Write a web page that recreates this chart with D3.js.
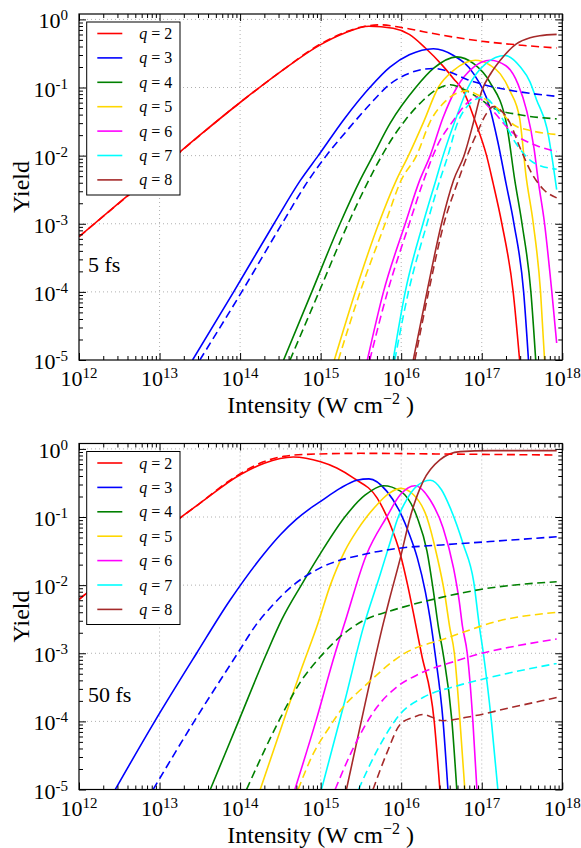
<!DOCTYPE html>
<html><head><meta charset="utf-8">
<script src="https://cdn.jsdelivr.net/npm/d3@7"></script>
<style>
body{margin:0;background:#fff}
svg{display:block}
</style>
</head><body>
<svg id="chart" width="581" height="848"></svg>
<script>
// ---- data: [log10 intensity (W cm^-2), log10 yield] ----
const charges = [2,3,4,5,6,7,8];
const colors = ["#ff0000","#0000ff","#008000","#ffd700","#ff00ff","#00ffff","#a52a2a"];
const xTickExps = [12,13,14,15,16,17,18];
const yTickExps = [0,-1,-2,-3,-4,-5];
const panelLabels = ["5 fs","50 fs"];

// 5 fs, solid
const s5_q2 = [[12,-3.19],[12.5,-2.69],[13,-2.2],[13.5,-1.7],[14,-1.22],[14.5,-0.77],[15,-0.37],[15.3,-0.2],[15.6,-0.1],[15.9,-0.13],[16.1,-0.22],[16.3,-0.42],[16.5,-0.66],[16.65,-0.87],[16.77,-1.05],[16.92,-1.5],[17.06,-2.0],[17.14,-2.4],[17.25,-3],[17.39,-4],[17.47,-5]];
const s5_q3 = [[13.41,-5],[13.92,-4],[14.42,-3],[14.75,-2.36],[14.97,-2],[15.3,-1.45],[15.61,-1],[15.86,-0.7],[16.1,-0.52],[16.4,-0.43],[16.65,-0.53],[16.9,-0.8],[17.1,-1.3],[17.2,-1.8],[17.3,-2.4],[17.4,-3],[17.52,-4],[17.58,-5]];
const s5_q4 = [[14.54,-5],[14.89,-4],[15.24,-3],[15.49,-2.36],[15.65,-2],[15.86,-1.53],[16.18,-1],[16.4,-0.72],[16.69,-0.55],[16.9,-0.65],[17.1,-0.92],[17.31,-1.55],[17.41,-2.36],[17.5,-3],[17.61,-4],[17.67,-5]];
const s5_q5 = [[15.17,-5],[15.43,-4],[15.72,-3],[15.94,-2.36],[16.09,-2],[16.28,-1.5],[16.46,-1],[16.65,-0.75],[16.92,-0.6],[17.1,-0.67],[17.23,-0.8],[17.35,-1.05],[17.47,-1.45],[17.55,-2.3],[17.64,-3],[17.73,-4],[17.78,-5]];
const s5_q6 = [[15.58,-5],[15.78,-4],[16.05,-3],[16.23,-2.36],[16.36,-2],[16.52,-1.44],[16.69,-1],[16.9,-0.7],[17.1,-0.6],[17.3,-0.68],[17.45,-0.95],[17.56,-1.35],[17.65,-1.9],[17.7,-2.36],[17.78,-3],[17.87,-4],[17.93,-4.75]];
const s5_q7 = [[15.9,-5],[16.05,-4],[16.27,-3],[16.43,-2.36],[16.52,-2],[16.68,-1.45],[16.83,-1],[17.05,-0.65],[17.29,-0.53],[17.48,-0.7],[17.6,-0.92],[17.68,-1.18],[17.81,-1.6],[17.93,-2.5]];
const s5_q8 = [[16.15,-5],[16.32,-4],[16.5,-3],[16.65,-2.36],[16.78,-2],[16.9,-1.5],[17.0,-1.05],[17.12,-0.78],[17.23,-0.6],[17.43,-0.36],[17.6,-0.27],[17.72,-0.24],[17.93,-0.22]];
// 5 fs, dashed
const d5_q2 = [[12,-3.19],[13,-2.2],[14,-1.22],[14.5,-0.77],[15,-0.36],[15.3,-0.19],[15.55,-0.1],[15.75,-0.08],[16.0,-0.12],[16.5,-0.23],[17,-0.32],[17.5,-0.38],[17.93,-0.42]];
const d5_q3 = [[13.5,-5],[14.02,-4],[14.52,-3],[14.85,-2.36],[15.07,-2],[15.35,-1.6],[15.61,-1.25],[15.86,-0.95],[16.1,-0.79],[16.4,-0.72],[16.6,-0.77],[16.81,-0.88],[17.1,-0.98],[17.4,-1.05],[17.93,-1.13]];
const d5_q4 = [[14.62,-5],[14.98,-4],[15.34,-3],[15.76,-2],[15.86,-1.8],[16.05,-1.48],[16.27,-1.19],[16.45,-1.02],[16.61,-0.96],[16.8,-1.04],[16.98,-1.17],[17.14,-1.3],[17.47,-1.4],[17.93,-1.46]];
const d5_q5 = [[15.22,-5],[15.49,-4],[15.8,-3],[16.0,-2.36],[16.19,-2],[16.36,-1.5],[16.55,-1.2],[16.81,-1.05],[17.0,-1.14],[17.19,-1.3],[17.4,-1.55],[17.6,-1.63],[17.93,-1.69]];
const d5_q6 = [[15.61,-5],[15.83,-4],[16.1,-3],[16.28,-2.36],[16.45,-1.85],[16.65,-1.48],[16.8,-1.25],[16.93,-1.14],[17.1,-1.3],[17.39,-1.67],[17.72,-1.87],[17.93,-1.94]];
const d5_q7 = [[15.92,-5],[16.09,-4],[16.32,-3],[16.48,-2.36],[16.58,-2],[16.69,-1.55],[16.85,-1.24],[17.02,-1.14],[17.2,-1.35],[17.43,-1.83],[17.64,-2.1],[17.93,-2.2]];
const d5_q8 = [[16.17,-5],[16.34,-4],[16.53,-3],[16.71,-2.36],[16.82,-2],[16.94,-1.67],[17.06,-1.38],[17.14,-1.28],[17.25,-1.35],[17.35,-1.52],[17.47,-1.87],[17.64,-2.3],[17.77,-2.5],[17.93,-2.62]];

// 50 fs, solid
const s50_q2 = [[12,-2.21],[12.5,-1.72],[13,-1.24],[13.5,-0.8],[14,-0.38],[14.3,-0.21],[14.66,-0.12],[15,-0.19],[15.2,-0.28],[15.41,-0.43],[15.7,-0.72],[15.86,-1.1],[15.99,-1.55],[16.08,-2.0],[16.15,-2.4],[16.25,-3],[16.41,-4],[16.48,-5]];
const s50_q3 = [[12.45,-5],[12.94,-4],[13.46,-3],[13.87,-2.23],[14.29,-1.55],[14.5,-1.26],[14.7,-1.03],[14.85,-0.89],[15.0,-0.77],[15.24,-0.58],[15.45,-0.46],[15.6,-0.44],[15.82,-0.62],[15.99,-0.94],[16.1,-1.25],[16.2,-1.6],[16.3,-2.1],[16.36,-2.5],[16.42,-3],[16.52,-4],[16.58,-5]];
const s50_q4 = [[13.63,-5],[13.98,-4],[14.33,-3],[14.52,-2.5],[14.76,-2],[15.0,-1.53],[15.3,-1],[15.55,-0.68],[15.78,-0.54],[15.99,-0.62],[16.2,-1.01],[16.32,-1.5],[16.4,-2.09],[16.46,-2.6],[16.52,-3],[16.63,-4],[16.69,-5]];
const s50_q5 = [[14.25,-5],[14.5,-4.13],[14.74,-3.3],[14.97,-2.55],[15.12,-2.0],[15.3,-1.5],[15.45,-1.2],[15.57,-1],[15.7,-0.82],[15.82,-0.68],[15.99,-0.58],[16.15,-0.67],[16.32,-1.01],[16.44,-1.55],[16.54,-2.13],[16.6,-2.6],[16.66,-3],[16.73,-4],[16.79,-5]];
const s50_q6 = [[14.68,-5],[14.94,-4],[15.18,-3],[15.3,-2.55],[15.57,-1.55],[15.82,-1.0],[15.99,-0.67],[16.17,-0.54],[16.36,-0.75],[16.52,-1.16],[16.65,-1.75],[16.72,-2.23],[16.76,-2.6],[16.82,-3],[16.89,-4],[16.94,-5]];
const s50_q7 = [[15.01,-5],[15.3,-3.7],[15.53,-2.62],[15.74,-1.84],[15.86,-1.38],[15.96,-1.01],[16.07,-0.74],[16.2,-0.54],[16.36,-0.46],[16.5,-0.6],[16.61,-0.87],[16.77,-1.4],[16.9,-1.95],[16.97,-2.6],[17.02,-3],[17.12,-4],[17.2,-5]];
const s50_q8 = [[15.32,-5],[15.55,-3.75],[15.78,-2.55],[15.86,-2.18],[15.99,-1.6],[16.11,-1.01],[16.27,-0.48],[16.48,-0.16],[16.73,-0.04],[17.1,-0.025],[17.93,-0.025]];
// 50 fs, dashed
const d50_q2 = [[12,-2.21],[13,-1.24],[13.5,-0.8],[13.9,-0.44],[14.29,-0.19],[14.54,-0.11],[14.83,-0.08],[15.5,-0.065],[16.5,-0.075],[17.93,-0.09]];
const d50_q3 = [[12.92,-5],[13.43,-4],[13.97,-3],[14.2,-2.58],[14.4,-2.3],[14.62,-2.04],[14.99,-1.75],[15.53,-1.55],[15.96,-1.46],[16.5,-1.41],[17.1,-1.36],[17.93,-1.29]];
const d50_q4 = [[14.08,-5],[14.5,-3.95],[14.75,-3.42],[14.99,-3.06],[15.25,-2.75],[15.53,-2.52],[15.86,-2.38],[16.0,-2.33],[16.5,-2.18],[17,-2.06],[17.93,-1.95]];
const d50_q5 = [[14.72,-5],[14.91,-4.47],[15.1,-4.1],[15.28,-3.79],[15.53,-3.5],[16.03,-3.01],[16.56,-2.78],[17.23,-2.52],[17.93,-2.4]];
const d50_q6 = [[15.18,-5],[15.41,-4.38],[15.7,-3.79],[15.94,-3.5],[16.23,-3.3],[16.69,-3.11],[17.0,-3.0],[17.31,-2.92],[17.93,-2.79]];
const d50_q7 = [[15.47,-5],[15.7,-4.43],[15.99,-3.89],[16.27,-3.65],[16.69,-3.48],[17.19,-3.33],[17.93,-3.15]];
const d50_q8 = [[15.65,-5],[15.82,-4.47],[15.99,-4.04],[16.15,-3.94],[16.27,-3.9],[16.52,-3.99],[16.81,-3.94],[17.39,-3.79],[17.93,-3.65]];

const solid5 = [s5_q2,s5_q3,s5_q4,s5_q5,s5_q6,s5_q7,s5_q8];
const dashed5 = [d5_q2,d5_q3,d5_q4,d5_q5,d5_q6,d5_q7,d5_q8];
const solid50 = [s50_q2,s50_q3,s50_q4,s50_q5,s50_q6,s50_q7,s50_q8];
const dashed50 = [d50_q2,d50_q3,d50_q4,d50_q5,d50_q6,d50_q7,d50_q8];

// ---- layout ----
const FONT = '"Liberation Serif", "Tinos", "Times New Roman"';
const svg = d3.select("#chart");
const L = 79, R = 562.3;
const panels = [
  {top:14, bottom:360, label:panelLabels[0], solid:solid5, dashed:dashed5},
  {top:443.5, bottom:789.5, label:panelLabels[1], solid:solid50, dashed:dashed50}
];
const x = d3.scaleLog().domain([1e12,1e18]).range([L,R]);
const majorX = xTickExps.map(e=>Math.pow(10,e));
const minorX = [];
for (let e=12;e<18;e++) for (let k=2;k<=9;k++) minorX.push(k*Math.pow(10,e));

function txt(sel){ return sel.append("text").style("font-family",FONT).attr("fill","#000"); }

panels.forEach((p,pi)=>{
  const g = svg.append("g");
  const y = d3.scaleLog().domain([1e-5,1.2]).range([p.bottom,p.top]);
  const majorY = yTickExps.map(e=>Math.pow(10,e));
  const minorY = [];
  for (let e=-5;e<1;e++) for (let k=2;k<=9;k++) { const v=k*Math.pow(10,e); if (v<=1.2) minorY.push(v); }

  const clipId = "clip"+pi;
  svg.append("clipPath").attr("id",clipId).append("rect")
    .attr("x",L).attr("y",p.top).attr("width",R-L).attr("height",p.bottom-p.top);

  // grid
  const grid = g.append("g").attr("stroke","#b0b0b0").attr("stroke-width",1).attr("stroke-dasharray","1,3");
  majorX.slice(1,-1).forEach(v=>grid.append("line").attr("x1",x(v)).attr("x2",x(v)).attr("y1",p.top).attr("y2",p.bottom));
  majorY.filter(v=>v>1e-5).forEach(v=>grid.append("line").attr("x1",L).attr("x2",R).attr("y1",y(v)).attr("y2",y(v)));

  // curves
  const line = d3.line()
    .x(d=>x(Math.pow(10,d[0])))
    .y(d=>y(Math.pow(10,d[1])))
    .curve(d3.curveMonotoneX);
  const cg = g.append("g").attr("clip-path",`url(#${clipId})`);
  charges.forEach((q,i)=>{
    cg.append("path").attr("d",line(p.solid[i])).attr("fill","none")
      .attr("stroke",colors[i]).attr("stroke-width",1.6);
  });
  charges.forEach((q,i)=>{
    cg.append("path").attr("d",line(p.dashed[i])).attr("fill","none")
      .attr("stroke",colors[i]).attr("stroke-width",1.6).attr("stroke-dasharray","8,4.5");
  });

  // ticks (inward, all sides)
  const noDomain = s=>s.select(".domain").remove();
  const styleTicks = s=>s.selectAll("line").attr("stroke","#000").attr("stroke-width",1);
  const addAxis = (axis, tr)=>g.append("g").attr("transform",tr).call(axis).call(noDomain).call(styleTicks);
  addAxis(d3.axisBottom(x).tickValues(majorX).tickSize(-7).tickFormat(""), `translate(0,${p.bottom})`);
  addAxis(d3.axisBottom(x).tickValues(minorX).tickSize(-4).tickFormat(""), `translate(0,${p.bottom})`);
  addAxis(d3.axisTop(x).tickValues(majorX).tickSize(-7).tickFormat(""), `translate(0,${p.top})`);
  addAxis(d3.axisTop(x).tickValues(minorX).tickSize(-4).tickFormat(""), `translate(0,${p.top})`);
  addAxis(d3.axisLeft(y).tickValues(majorY).tickSize(-7).tickFormat(""), `translate(${L},0)`);
  addAxis(d3.axisLeft(y).tickValues(minorY).tickSize(-4).tickFormat(""), `translate(${L},0)`);
  addAxis(d3.axisRight(y).tickValues(majorY).tickSize(-7).tickFormat(""), `translate(${R},0)`);
  addAxis(d3.axisRight(y).tickValues(minorY).tickSize(-4).tickFormat(""), `translate(${R},0)`);

  // frame
  g.append("rect").attr("x",L).attr("y",p.top).attr("width",R-L).attr("height",p.bottom-p.top)
    .attr("fill","none").attr("stroke","#000").attr("stroke-width",1.2);

  // tick labels
  xTickExps.forEach(e=>{
    const t = txt(g).attr("x",x(Math.pow(10,e))).attr("y",p.bottom+26)
      .attr("text-anchor","middle").attr("font-size",22);
    t.append("tspan").text("10");
    t.append("tspan").attr("font-size",15).attr("dy",-8).text(e);
  });
  yTickExps.forEach(e=>{
    const t = txt(g).attr("x",68).attr("y",y(Math.pow(10,e))+9)
      .attr("text-anchor","end").attr("font-size",22);
    t.append("tspan").text("10");
    t.append("tspan").attr("font-size",15).attr("dy",-8).text(e===0?"0":"-"+(-e));
  });

  // axis labels
  const xl = txt(g).attr("x",(L+R)/2).attr("y",p.bottom+53)
    .attr("text-anchor","middle").attr("font-size",24);
  xl.append("tspan").text("Intensity (W cm");
  xl.append("tspan").attr("font-size",16).attr("dy",-9).text("\u22122");
  xl.append("tspan").attr("dy",9).text(" )");
  txt(g).attr("transform",`translate(29,${(p.top+p.bottom)/2}) rotate(-90)`)
    .attr("text-anchor","middle").attr("font-size",24).text("Yield");

  // panel label
  txt(g).attr("x",88).attr("y",p.top+258).attr("font-size",22).text(p.label);

  // legend
  const lg = g.append("g");
  lg.append("rect").attr("x",86.7).attr("y",p.top+8).attr("width",93.3).attr("height",173)
    .attr("fill","#fff").attr("stroke","#000").attr("stroke-width",1);
  charges.forEach((q,i)=>{
    const ry = p.top+19.5+i*24.4;
    lg.append("line").attr("x1",97.3).attr("x2",122.3).attr("y1",ry).attr("y2",ry)
      .attr("stroke",colors[i]).attr("stroke-width",1.6);
    const t = txt(lg).attr("x",139.3).attr("y",ry+5.5).attr("font-size",16);
    t.append("tspan").attr("font-style","italic").text("q");
    t.append("tspan").text(" = "+q);
  });
});
</script>
</body></html>
